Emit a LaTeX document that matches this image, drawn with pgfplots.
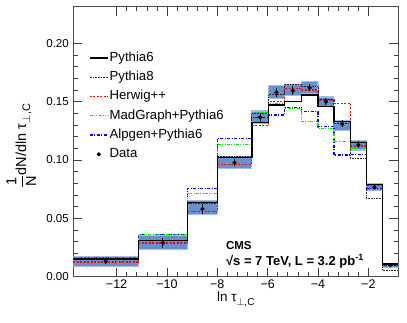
\documentclass[border=0pt]{standalone}
\usepackage{pgfplots}
\pgfplotsset{compat=1.18}
\usepackage{pgfplotstable}
\usepgfplotslibrary{fillbetween}
\usepackage{fontspec}
\setmainfont{Liberation Sans}

\definecolor{bandc}{RGB}{107,142,204}
\definecolor{bandl}{RGB}{165,188,228}
\definecolor{mggreen}{RGB}{0,230,0}

% bin left edges (last row = right edge of last bin)
\pgfplotstableread{
x      p6     p8     hw     mg     al     lo     hi
-13.72 0.0150 0.0148 0.0125 0.0163 0.0166 0.0090 0.0170
-11.14 0.0310 0.0310 0.0290 0.0360 0.0363 0.0230 0.0350
-9.18  0.0634 0.0630 0.0560 0.0714 0.0757 0.0530 0.0650
-8.00  0.1023 0.1034 0.0963 0.1134 0.1186 0.0930 0.1030
-6.63  0.1320 0.1400 0.1294 0.1409 0.1366 0.1310 0.1420
-5.97  0.1470 0.1560 0.1500 0.1486 0.1386 0.1530 0.1640
-5.33  0.1500 0.1650 0.1610 0.1443 0.1452 0.1550 0.1650
-4.66  0.1557 0.1630 0.1600 0.1328 0.1414 0.1570 0.1670
-4.00  0.1457 0.1520 0.1514 0.1270 0.1285 0.1460 0.1540
-3.37  0.1328 0.1310 0.1486 0.1157 0.1043 0.1250 0.1340
-2.71  0.1149 0.1014 0.1120 0.1100 0.1050 0.1086 0.1170
-2.08  0.0792 0.0670 0.0780 0.0780 0.0757 0.0737 0.0800
-1.44  0.0109 0.0057 0.0100 0.0100 0.0095 0.0080 0.0115
-0.81  0.0109 0.0057 0.0100 0.0100 0.0095 0.0080 0.0115
}\hist

\pgfplotstableread{
x      y      e
-12.43 0.0130 0.0020
-10.16 0.0290 0.0040
-8.59  0.0580 0.0040
-7.315 0.0977 0.0030
-6.30  0.1366 0.0040
-5.65  0.1580 0.0040
-4.995 0.1594 0.0040
-4.33  0.1620 0.0030
-3.685 0.1500 0.0030
-3.04  0.1309 0.0030
-2.395 0.1129 0.0030
-1.76  0.0766 0.0020
-1.125 0.0100 0.0015
}\data

\begin{document}
\begin{tikzpicture}
\begin{axis}[
  at={(73.3pt,45.3pt)}, anchor=south west,
  scale only axis, width=325pt, height=270pt,
  xmin=-13.72, xmax=-0.81, ymin=0, ymax=0.2314,
  xtick={-12,-10,-8,-6,-4,-2},
  xticklabels={−12,−10,−8,−6,−4,−2},
  ytick={0,0.05,0.10,0.15,0.20},
  minor x tick num=4, minor y tick num=4,
  tick align=inside, tick pos=both,
  major tick length=9pt, minor tick length=4.5pt,
  tick style={black!75, line width=0.6pt},
  axis line style={black!70, line width=1pt},
  /pgf/number format/assume math mode=true,
  xticklabel style={font=\fontsize{12.5}{14}\selectfont, yshift=0pt},
  yticklabel style={font=\fontsize{11.5}{13}\selectfont, xshift=-1pt,
    /pgf/number format/.cd, fixed, fixed zerofill, precision=2},
  xlabel={ln τ\raisebox{-4pt}{\fontsize{10}{11}\selectfont$\perp$,C}},
  xlabel style={at={(rel axis cs:0.5,0)}, anchor=north, inner sep=0pt,
    yshift=-15pt, font=\fontsize{13.5}{15}\selectfont},
  ylabel={$\displaystyle\frac{\mbox{1}}{\mbox{N}}$dN/dln τ\raisebox{-4pt}{\fontsize{11}{12}\selectfont$\perp$,C}},
  ylabel style={at={(rel axis cs:-0.16,0.484)}, anchor=center, inner sep=0pt,
    font=\fontsize{14.5}{16}\selectfont},
  legend style={draw=none, fill=none, at={(rel axis cs:0.048,0.838)},
    anchor=north west, inner sep=0pt, font=\fontsize{13.2}{15}\selectfont,
    row sep=5pt, nodes={inner sep=1pt, text height=9.5pt, text depth=2.8pt},
    /tikz/every even column/.append style={column sep=8pt}},
  legend cell align=left,
  legend image code/.code={\draw[#1] (0pt,0pt) -- (18pt,0pt);},
]
% uncertainty band
\addplot[name path=hi, const plot, draw=none, forget plot] table[x=x,y=hi]{\hist};
\addplot[name path=lo, const plot, draw=none, forget plot] table[x=x,y=lo]{\hist};
\addplot[fill=bandc, draw=bandl, line width=1.1pt, forget plot] fill between[of=hi and lo];

% MC predictions
\addplot[const plot, blue, line width=1.3pt, forget plot,
  dash pattern=on 3pt off 1.5pt on 1pt off 1.5pt] table[x=x,y=al]{\hist};
\addplot[const plot, mggreen, line width=1.3pt, forget plot,
  dash pattern=on 3pt off 1.3pt on 1pt off 1.3pt on 1pt off 1.3pt] table[x=x,y=mg]{\hist};
\addplot[const plot, red, line width=1.3pt, forget plot,
  dash pattern=on 2pt off 1.5pt] table[x=x,y=hw]{\hist};
\addplot[const plot, black!85, line width=0.8pt, forget plot,
  dash pattern=on 0.8pt off 0.8pt] table[x=x,y=p8]{\hist};
\addplot[const plot, black, line width=1.5pt, forget plot] table[x=x,y=p6]{\hist};

% data
\addplot[only marks, mark=*, mark size=1.9pt, black, forget plot,
  error bars/.cd, y dir=both, y explicit,
  error bar style={black, line width=1pt}, error mark=none]
  table[x=x,y=y,y error=e]{\data};

% legend
\addlegendimage{black, line width=1.5pt}
\addlegendentry{Pythia6}
\addlegendimage{black!85, line width=0.8pt, dash pattern=on 0.8pt off 0.8pt}
\addlegendentry{Pythia8}
\addlegendimage{red, line width=1.3pt, dash pattern=on 2pt off 1.5pt}
\addlegendentry{Herwig++}
\addlegendimage{mggreen, line width=1.3pt, dash pattern=on 3pt off 1.3pt on 1pt off 1.3pt on 1pt off 1.3pt}
\addlegendentry{MadGraph+Pythia6}
\addlegendimage{blue, line width=1.3pt, dash pattern=on 3pt off 1.5pt on 1pt off 1.5pt}
\addlegendentry{Alpgen+Pythia6}
\addlegendimage{legend image code/.code={\fill[black] (9pt,0pt) circle (1.9pt);}}
\addlegendentry{Data}

\node[anchor=base west, inner sep=0pt, font=\bfseries\fontsize{11.5}{13}\selectfont]
  at (axis cs:-7.66,0.0229) {CMS};
\node[anchor=base west, inner sep=0pt, font=\bfseries\fontsize{13}{15}\selectfont]
  at (axis cs:-7.66,0.0100) {√s = 7 TeV, L = 3.2 pb\textsuperscript{-1}};
\end{axis}
\path (0,0) rectangle (407pt,322pt);
\end{tikzpicture}
\end{document}
